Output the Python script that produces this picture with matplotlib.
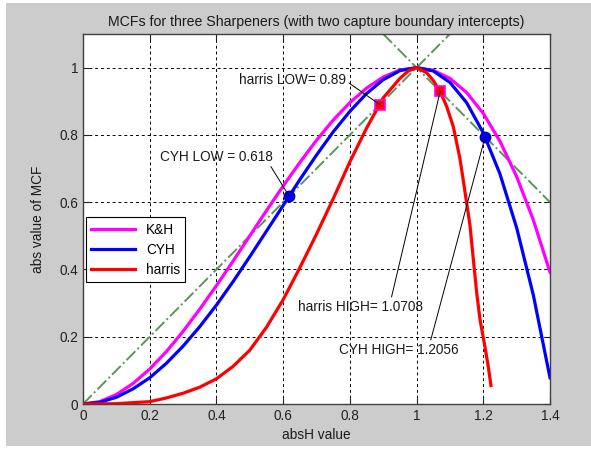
import matplotlib.pyplot as plt
from matplotlib.patches import Rectangle

plt.rcParams['font.family'] = ['Liberation Sans', 'DejaVu Sans']

# values
absH = [0, 0.05, 0.1, 0.15, 0.2, 0.25, 0.3, 0.35, 0.4, 0.45, 0.5, 0.55, 0.6, 0.65,
        0.7, 0.75, 0.8, 0.85, 0.9, 0.95, 1.0, 1.05, 1.1, 1.15, 1.2, 1.25, 1.3, 1.35, 1.4]
kh_mcf = [0, 0.007, 0.028, 0.061, 0.104, 0.156, 0.216, 0.282, 0.352, 0.425, 0.5, 0.575, 0.648, 0.718,
          0.784, 0.844, 0.896, 0.939, 0.972, 0.993, 1.0, 0.992, 0.968, 0.926, 0.864, 0.781, 0.676, 0.547, 0.392]
cyh_mcf = [0, 0.005, 0.020, 0.045, 0.078, 0.121, 0.172, 0.230, 0.294, 0.364, 0.438, 0.514, 0.590, 0.667,
           0.740, 0.809, 0.870, 0.923, 0.964, 0.991, 1.0, 0.990, 0.956, 0.896, 0.806, 0.684, 0.524, 0.324, 0.078]

harris_x = [0, 0.1, 0.2, 0.25, 0.3, 0.35, 0.4, 0.45, 0.5, 0.55, 0.6, 0.65, 0.7, 0.75, 0.8, 0.85, 0.9,
            0.95, 0.975, 1.0, 1.03, 1.05, 1.0708, 1.09, 1.11, 1.13, 1.145, 1.16, 1.17, 1.18, 1.19, 1.205,
            1.215, 1.223]
harris_mcf = [0, 0.001, 0.007, 0.018, 0.032, 0.05, 0.075, 0.112, 0.16, 0.228, 0.31, 0.405, 0.505, 0.61,
              0.72, 0.82, 0.91, 0.968, 0.99, 1.0, 0.985, 0.962, 0.929, 0.885, 0.825, 0.73, 0.632, 0.532,
              0.432, 0.333, 0.252, 0.17, 0.111, 0.055]

# capture boundaries y = x and y = 2 - x
bound_up_x = [0, 1.1]
bound_up_y = [0, 1.1]
bound_dn_x = [0.9, 1.4]
bound_dn_y = [1.1, 0.6]

# intercepts
cyh_low, cyh_high = 0.618, 1.2056
harris_low, harris_high = 0.89, 1.0708

fig = plt.figure(figsize=(5.91, 4.49), dpi=100, facecolor='white')
fig.patches.append(Rectangle((6 / 591, 3 / 449), 585 / 591, 443 / 449, transform=fig.transFigure,
                             facecolor='#cccccc', edgecolor='none', zorder=-1))
ax = fig.add_axes([83 / 591, 45 / 449, 467 / 591, 370 / 449])

green = '#5a955a'
ax.plot(bound_up_x, bound_up_y, color=green, lw=1.4, ls='-.', zorder=2)
ax.plot(bound_dn_x, bound_dn_y, color=green, lw=1.4, ls='-.', zorder=2)

ax.plot(absH, kh_mcf, color='magenta', lw=2.3, label='K&H', zorder=3)
ax.plot(absH, cyh_mcf, color='blue', lw=2.3, label='CYH', zorder=3)
ax.plot(harris_x, harris_mcf, color='red', lw=2.3, label='harris', zorder=3)

ax.plot([cyh_low, cyh_high], [cyh_low, 2 - cyh_high], 'o', ms=7.5, mfc='blue', mec='#0000aa', zorder=5)
ax.plot([harris_low, harris_high], [harris_low, 2 - harris_high], 's', ms=7.5, mfc='red', mec='magenta',
        mew=1.2, zorder=5)

fs = 9.8
arrow = dict(arrowstyle='-', color='black', lw=0.7, shrinkA=0, shrinkB=0)
ax.annotate('harris LOW= 0.89', xy=(harris_low, harris_low), xytext=(0.629, 0.964), ha='center', va='center',
            fontsize=fs, color='#1a1a1a', arrowprops=dict(arrow, relpos=(1, 0.4)), zorder=6)
ax.annotate('CYH LOW = 0.618', xy=(cyh_low, cyh_low), xytext=(0.399, 0.735), ha='center', va='center',
            fontsize=fs, color='#1a1a1a', arrowprops=dict(arrow, relpos=(0.97, 0)), zorder=6)
ax.annotate('harris HIGH= 1.0708', xy=(harris_high, 2 - harris_high), xytext=(0.833, 0.289), ha='center',
            va='center', fontsize=fs, color='#1a1a1a', arrowprops=dict(arrow, relpos=(0.74, 1)), zorder=6)
ax.annotate('CYH HIGH= 1.2056', xy=(cyh_high, 2 - cyh_high), xytext=(0.947, 0.161), ha='center',
            va='center', fontsize=fs, color='#1a1a1a', arrowprops=dict(arrow, relpos=(0.76, 1)), zorder=6)

ax.set_xlim(0, 1.4)
ax.set_ylim(0, 1.1)
ax.set_xticks([0, 0.2, 0.4, 0.6, 0.8, 1, 1.2, 1.4])
ax.set_yticks([0, 0.2, 0.4, 0.6, 0.8, 1])
ax.set_xticklabels(['0', '0.2', '0.4', '0.6', '0.8', '1', '1.2', '1.4'])
ax.set_yticklabels(['0', '0.2', '0.4', '0.6', '0.8', '1'])
ax.grid(True, color='black', ls=(0, (3, 3)), lw=0.7)
ax.tick_params(direction='in', top=True, right=True, length=4, labelsize=fs, colors='#222222')
for s in ax.spines.values():
    s.set_color('#404040')
    s.set_linewidth(1)

ax.set_title('MCFs for three Sharpeners (with two capture boundary intercepts)', fontsize=10.2,
             color='#1a1a1a', pad=6)
ax.set_xlabel('absH value', fontsize=fs, color='#1a1a1a', labelpad=4)
ax.set_ylabel('abs value of MCF', fontsize=fs, color='#1a1a1a', labelpad=10)

leg = ax.legend(loc='upper left', bbox_to_anchor=(0.0065, 0.505), borderaxespad=0, fancybox=False,
                framealpha=1, edgecolor='black', fontsize=fs, handlelength=3.2, borderpad=0.4,
                labelspacing=0.45)
leg.get_frame().set_linewidth(0.8)

fig.savefig('out.png', dpi=100, facecolor=fig.get_facecolor())
